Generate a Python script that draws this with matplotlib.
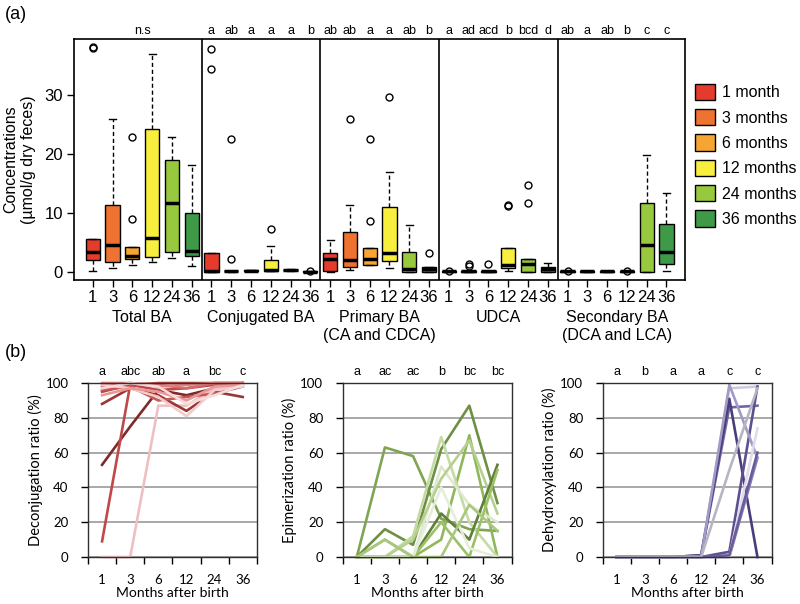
import numpy as np
import matplotlib
matplotlib.use("Agg")
import matplotlib.pyplot as plt
from matplotlib.patches import Patch
import matplotlib.transforms as mtransforms

plt.rcParams['font.family'] = ['Liberation Sans', 'DejaVu Sans']

# ---- data: panel (a), box summaries (whislo, q1, med, q3, whishi, outliers)
month_labels = ['1', '3', '6', '12', '24', '36']
legend_labels = ['1 month', '3 months', '6 months', '12 months', '24 months', '36 months']
box_colors = ['#E53B2C', '#EE7230', '#F6A532', '#F8EE3E', '#97C83E', '#3E9A47']
group_names = ['Total BA', 'Conjugated BA', 'Primary BA\n(CA and CDCA)', 'UDCA',
               'Secondary BA\n(DCA and LCA)']

total_ba = [
    (0.2, 2.0, 3.3, 5.5, 5.5, [38.0, 38.2]),
    (0.6, 1.7, 4.5, 11.4, 25.9, []),
    (1.1, 2.2, 2.7, 4.2, 4.2, [8.9, 22.8]),
    (1.6, 2.5, 5.7, 24.2, 36.9, []),
    (2.4, 3.3, 11.7, 19.0, 22.9, []),
    (1.0, 2.7, 3.5, 9.9, 18.2, []),
]
conjugated_ba = [
    (0.0, 0.0, 0.1, 3.2, 3.2, [34.4, 37.8]),
    (0.0, 0.05, 0.1, 0.15, 0.2, [2.2, 22.6]),
    (0.1, 0.15, 0.2, 0.25, 0.3, []),
    (0.1, 0.2, 0.3, 2.0, 4.4, [7.2]),
    (0.2, 0.25, 0.3, 0.35, 0.4, []),
    (-0.1, -0.05, 0.0, 0.05, 0.1, [0.1]),
]
primary_ba = [
    (0.0, 0.2, 2.2, 3.1, 5.4, []),
    (0.3, 0.85, 2.0, 6.8, 11.4, [25.9]),
    (1.1, 1.1, 2.2, 4.1, 4.1, [8.6, 22.6]),
    (0.6, 1.8, 3.1, 11.0, 16.9, [29.6]),
    (0.0, 0.0, 0.5, 3.3, 8.0, []),
    (0.0, 0.0, 0.4, 0.75, 0.75, [3.2]),
]
udca = [
    (0.0, 0.0, 0.05, 0.1, 0.1, [0.15]),
    (0.0, 0.0, 0.05, 0.1, 0.1, [0.9, 1.4]),
    (0.0, 0.0, 0.05, 0.1, 0.1, [1.3]),
    (0.2, 0.6, 1.1, 4.1, 4.1, [11.1, 11.3]),
    (0.0, 0.0, 1.4, 2.1, 2.1, [11.7, 14.7]),
    (0.0, 0.0, 0.4, 0.85, 1.5, []),
]
secondary_ba = [
    (0.0, 0.0, 0.05, 0.1, 0.1, [0.1]),
    (0.0, 0.0, 0.05, 0.1, 0.1, []),
    (0.0, 0.0, 0.05, 0.1, 0.1, []),
    (0.0, 0.0, 0.05, 0.1, 0.1, [0.15]),
    (0.0, 0.0, 4.5, 11.7, 19.9, []),
    (0.2, 1.4, 3.4, 8.1, 13.3, []),
]
groups = [total_ba, conjugated_ba, primary_ba, udca, secondary_ba]
group_letters = [
    ['n.s'],
    ['a', 'ab', 'a', 'a', 'a', 'b'],
    ['ab', 'ab', 'a', 'a', 'ab', 'b'],
    ['a', 'ad', 'acd', 'b', 'bcd', 'd'],
    ['ab', 'a', 'ab', 'b', 'c', 'c'],
]

# ---- data: panel (b), ratios per infant at 1, 3, 6, 12, 24, 36 months
deconj = [
    [53, 75, 96, 93, 97, 99],
    [9, 99, 96, 97, 99, 100],
    [0, 0, 87, 87, 97, 99],
    [88, 97, 93, 84, 95, 92],
    [95, 99, 100, 100, 100, 100],
    [98, 100, 99, 97, 100, 100],
    [96, 98, 90, 92, 94, 98],
    [99, 97, 92, 81, 96, 98],
    [100, 100, 98, 99, 100, 100],
    [93, 97, 95, 90, 98, 99],
    [97, 100, 98, 88, 93, 99],
]
deconj_colors = ['#7f2a2a', '#c04848', '#eec0c0', '#9c3535', '#b54444', '#d66a6a',
                 '#c85656', '#f2cccc', '#e08080', '#e89898', '#f7dada']
epim = [
    [0, 63, 58, 22, 16, 15],
    [0, 16, 7, 62, 87, 31],
    [0, 10, 0, 10, 70, 0],
    [0, 0, 12, 69, 20, 0],
    [0, 0, 0, 52, 30, 20],
    [0, 0, 10, 45, 67, 25],
    [0, 0, 0, 25, 10, 53],
    [0, 0, 0, 20, 0, 50],
    [0, 0, 0, 40, 5, 0],
    [0, 10, 0, 0, 30, 15],
]
epim_colors = ['#7fa552', '#6e9044', '#8fb85a', '#c5dba4', '#dde8cc', '#b6d08f',
               '#5f7f3a', '#9cc066', '#e6eedb', '#a9c77e']
dehyd = [
    [0, 0, 0, 1, 97, 98],
    [0, 0, 0, 1, 86, 87],
    [0, 0, 0, 1, 91, 0],
    [0, 0, 0, 0, 3, 98],
    [0, 0, 0, 0, 0, 57],
    [0, 0, 0, 0, 99, 57],
    [0, 0, 0, 0, 0, 74],
    [0, 0, 0, 0, 1, 60],
    [0, 0, 0, 0, 50, 97],
]
dehyd_colors = ['#cfc9e2', '#7466a3', '#4b3d7a', '#5e4f8f', '#8a7fb5', '#a39ac6',
                '#e0dcec', '#6a5c9a', '#b5b5c5']
deconj_letters = ['a', 'abc', 'ab', 'a', 'bc', 'c']
epim_letters = ['a', 'ac', 'ac', 'b', 'bc', 'bc']
dehyd_letters = ['a', 'b', 'a', 'a', 'c', 'c']

fig = plt.figure(figsize=(8, 6.04), dpi=100)

# ---------------- panel (a)
ax = fig.add_axes([0.0925, 0.5364, 0.764, 0.399])
stats, positions = [], []
for g, grp in enumerate(groups):
    for i, (lo, q1, med, q3, hi, fl) in enumerate(grp):
        stats.append(dict(whislo=lo, q1=q1, med=med, q3=q3, whishi=hi,
                          fliers=np.array(fl)))
        positions.append(g * 6 + i + 1)

bp = ax.bxp(stats, positions=positions, widths=0.72, capwidths=0.36,
            patch_artist=True, showfliers=True,
            boxprops=dict(edgecolor='black', linewidth=1),
            medianprops=dict(color='black', linewidth=2.5),
            whiskerprops=dict(color='black', linestyle=(0, (3, 2)), linewidth=1),
            capprops=dict(color='black', linewidth=1),
            flierprops=dict(marker='o', markerfacecolor='none', markeredgecolor='black',
                            markersize=5, markeredgewidth=1))
for k, patch in enumerate(bp['boxes']):
    patch.set_facecolor(box_colors[k % 6])

for g in range(1, 5):
    ax.axvline(g * 6 + 0.5, color='black', lw=1.2)

ax.set_xlim(0.05, 30.95)
ax.set_ylim(-1.4, 39.5)
ax.set_yticks([0, 10, 20, 30])
ax.set_xticks(positions)
ax.set_xticklabels(month_labels * 5)
ax.tick_params(axis='both', labelsize=12, width=1, length=5, pad=2)
ax.tick_params(axis='y', length=5, pad=3)
for sp in ax.spines.values():
    sp.set_linewidth(1.2)
ax.set_ylabel('Concentrations\n(µmol/g dry feces)', fontsize=11.5, labelpad=6)

trans = mtransforms.blended_transform_factory(ax.transData, ax.transAxes)
for g, letters in enumerate(group_letters):
    if len(letters) == 1:
        ax.text(g * 6 + 3.5, 1.033, letters[0], transform=trans, ha='center',
                va='center', fontsize=9)
    else:
        for i, t in enumerate(letters):
            ax.text(g * 6 + i + 1, 1.033, t, transform=trans, ha='center',
                    va='center', fontsize=9)
    ax.text(g * 6 + 3.5, -0.125, group_names[g], transform=trans, ha='center',
            va='top', fontsize=11.5)

handles = [Patch(facecolor=c, edgecolor='black', linewidth=1) for c in box_colors]
ax.legend(handles, legend_labels, loc='upper left', bbox_to_anchor=(1.016, 0.815),
          frameon=False, fontsize=11.5, handlelength=1.25, handleheight=1.2,
          handletextpad=0.45, labelspacing=0.55, borderpad=0, borderaxespad=0)

fig.text(0.006, 0.99, '(a)', fontsize=13, va='top')
fig.text(0.006, 0.43, '(b)', fontsize=13, va='top')

# ---------------- panel (b)
panels = [
    (0.11, deconj, deconj_colors, deconj_letters, 'Deconjugation ratio (%)'),
    (0.4284, epim, epim_colors, epim_letters, 'Epimerization ratio (%)'),
    (0.7534, dehyd, dehyd_colors, dehyd_letters, 'Dehydroxylation ratio (%)'),
]
x = np.arange(6)
for left, data, colors, letters, ylabel in panels:
    bx = fig.add_axes([left, 0.0778, 0.211, 0.288])
    for vals, c in zip(data, colors):
        bx.plot(x, vals, color=c, lw=1.9, clip_on=False)
    bx.set_xlim(-0.5, 5.5)
    bx.set_ylim(0, 100)
    bx.set_yticks(range(0, 101, 20))
    bx.yaxis.grid(True, color='#9a9a9a', lw=1.2)
    bx.set_axisbelow(True)
    bx.set_xticks(x)
    bx.set_xticklabels(month_labels, family='Lato', fontsize=9.5)
    bx.set_xticks(np.arange(-0.5, 6, 1), minor=True)
    bx.tick_params(axis='x', which='major', length=0, pad=12)
    bx.tick_params(axis='x', which='minor', length=5, width=1, direction='out')
    bx.tick_params(axis='y', length=5, width=1, pad=9, labelsize=9.5)
    for lab in bx.get_yticklabels():
        lab.set_family('Lato')
    for sp in bx.spines.values():
        sp.set_linewidth(1)
        sp.set_color('#303030')
    bx.set_ylabel(ylabel, family='Lato', fontsize=10.5, labelpad=2)
    bx.set_xlabel('Months after birth', family='Lato', fontsize=10, labelpad=1)
    btrans = mtransforms.blended_transform_factory(bx.transData, bx.transAxes)
    for i, t in enumerate(letters):
        bx.text(i, 1.063, t, transform=btrans, ha='center', va='center', fontsize=9)

fig.savefig('out.png', dpi=100)
